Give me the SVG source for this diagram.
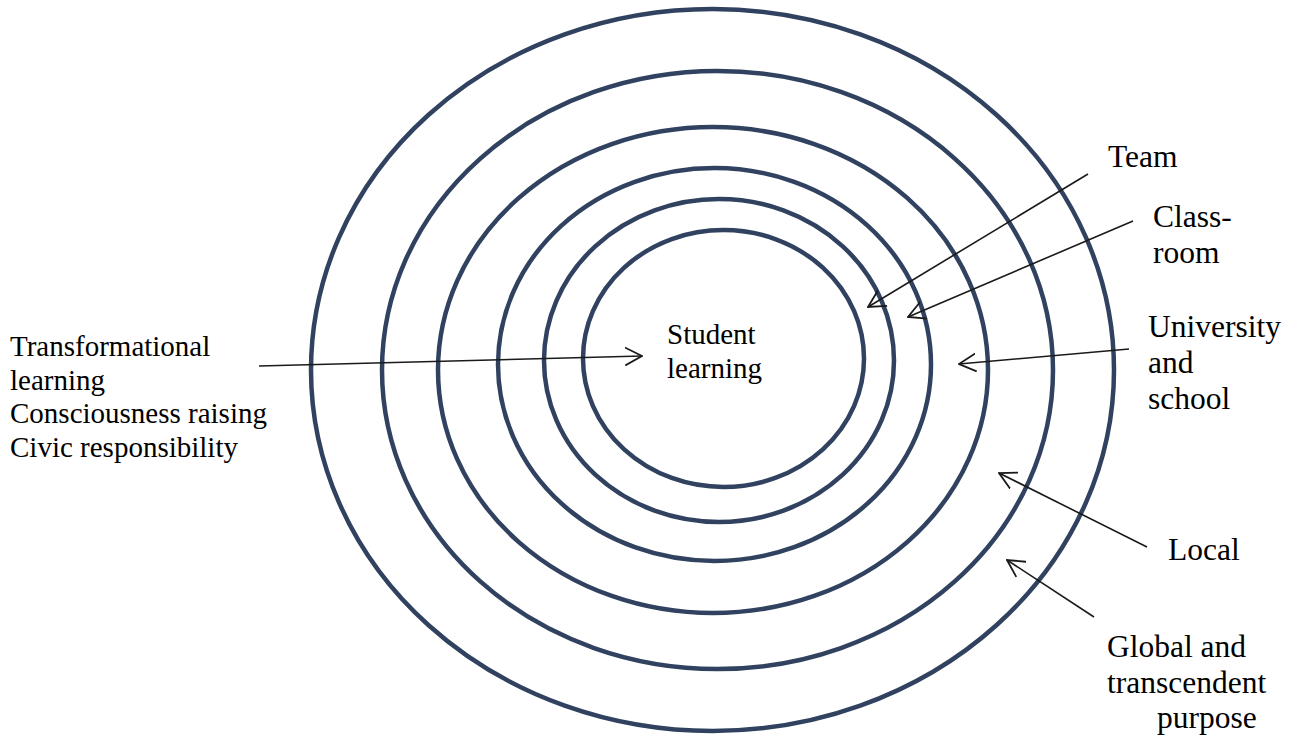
<svg xmlns="http://www.w3.org/2000/svg" width="1301" height="738" viewBox="0 0 1301 738">
<style>
.ring{fill:none;stroke:#30425f;stroke-width:4.5}
.conn{fill:none;stroke:#1a1a1a;stroke-width:1.6;marker-end:url(#open)}
.lbl{font-family:"Liberation Serif","Times New Roman",serif;font-size:29px;fill:#000}
.r{font-size:31.5px}
</style>
<defs>
<marker id="open" viewBox="0 0 18 20" refX="17" refY="10" markerWidth="18" markerHeight="20" markerUnits="userSpaceOnUse" orient="auto">
<path d="M0,1 L17,10 L0,19" fill="none" stroke="#1a1a1a" stroke-width="1.8"/>
</marker>
</defs>
<rect width="1301" height="738" fill="#fff"/>
<g id="rings">
<g id="ring-global"><ellipse class="ring" cx="712.5" cy="370" rx="401.5" ry="361"/></g>
<g id="ring-local"><ellipse class="ring" cx="717.5" cy="370" rx="335.5" ry="299"/></g>
<g id="ring-university"><ellipse class="ring" cx="713" cy="370" rx="275" ry="243"/></g>
<g id="ring-classroom"><ellipse class="ring" cx="714.5" cy="364.5" rx="216.5" ry="196.5"/></g>
<g id="ring-team"><ellipse class="ring" cx="719" cy="360.5" rx="175" ry="161.5"/></g>
<g id="ring-student"><ellipse class="ring" cx="723.5" cy="358.5" rx="140.5" ry="128.5"/></g>
</g>
<g id="connectors">
<line class="conn" x1="259" y1="366" x2="642" y2="356"/>
<line class="conn" x1="1088" y1="174" x2="868" y2="307"/>
<line class="conn" x1="1133" y1="221" x2="908" y2="317"/>
<line class="conn" x1="1129" y1="349" x2="959" y2="364"/>
<line class="conn" x1="1147" y1="547" x2="999" y2="473"/>
<line class="conn" x1="1094" y1="617" x2="1007" y2="560"/>
</g>
<g id="node-student">
<text class="lbl" x="667" y="344">Student</text>
<text class="lbl" x="667" y="378">learning</text>
</g>
<g id="node-left">
<text class="lbl" x="10" y="356">Transformational</text>
<text class="lbl" x="10" y="390">learning</text>
<text class="lbl" x="10" y="423">Consciousness raising</text>
<text class="lbl" x="10" y="457">Civic responsibility</text>
</g>
<g id="node-team"><text class="lbl r" x="1108" y="167">Team</text></g>
<g id="node-classroom">
<text class="lbl r" x="1153" y="227">Class-</text>
<text class="lbl r" x="1153" y="263">room</text>
</g>
<g id="node-university">
<text class="lbl r" x="1148" y="337">University</text>
<text class="lbl r" x="1148" y="373">and</text>
<text class="lbl r" x="1148" y="409">school</text>
</g>
<g id="node-local"><text class="lbl r" x="1168" y="560">Local</text></g>
<g id="node-global">
<text class="lbl r" x="1107" y="657">Global and</text>
<text class="lbl r" x="1107" y="693">transcendent</text>
<text class="lbl r" x="1157" y="728">purpose</text>
</g>
</svg>
